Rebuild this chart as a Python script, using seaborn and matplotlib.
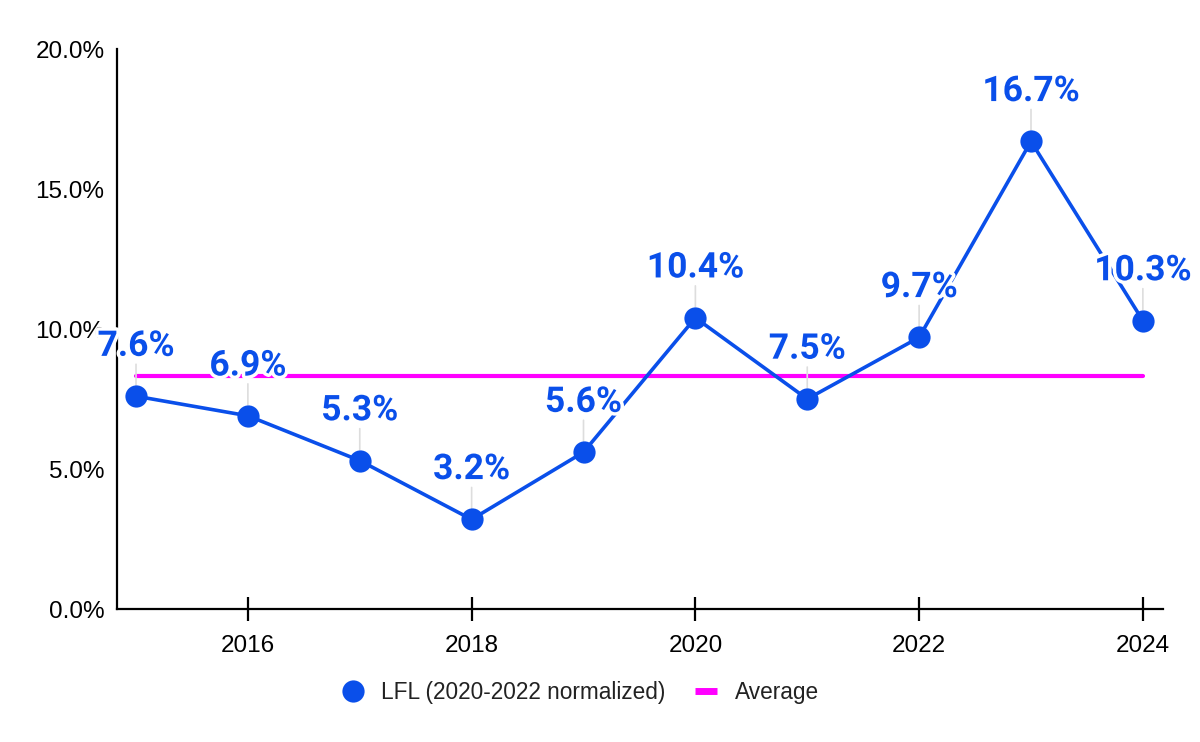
import matplotlib
matplotlib.use('Agg')
import matplotlib.pyplot as plt
import matplotlib.patheffects as pe
from matplotlib.lines import Line2D
from matplotlib.ticker import FuncFormatter, FixedLocator
import pandas as pd
import seaborn as sns

years = [2015, 2016, 2017, 2018, 2019, 2020, 2021, 2022, 2023, 2024]
lfl = [7.6, 6.9, 5.3, 3.2, 5.6, 10.4, 7.5, 9.7, 16.7, 10.3]
average = 8.32
x_ticks = [2016, 2018, 2020, 2022, 2024]
y_ticks = [0, 5, 10, 15, 20]

blue = '#0A4FEA'
magenta = '#FF00FF'

df = pd.DataFrame({'year': years, 'lfl': lfl})

sns.set_style("white")
plt.rcParams['font.family'] = ['Liberation Sans', 'DejaVu Sans']

fig = plt.figure(figsize=(12, 7.42), dpi=100)
ax = fig.add_axes([117 / 1200, 1 - 609 / 742, (1163 - 117) / 1200, (609 - 49) / 742])

ax.plot(years, [average] * len(years), color=magenta, lw=3, zorder=2)
sns.lineplot(data=df, x='year', y='lfl', ax=ax, color=blue, lw=2.6,
             marker='o', markersize=16, markeredgewidth=0, zorder=4)

for yr, v in zip(years, lfl):
    ax.annotate('', xy=(yr, v), xytext=(0, 23), textcoords='offset points',
                arrowprops=dict(arrowstyle='-', color='#dddddd', lw=1.2,
                                shrinkA=0, shrinkB=8), zorder=3)
    ax.annotate(f'{v:.1f}%', xy=(yr, v), xytext=(0, 24), textcoords='offset points',
                ha='center', va='bottom', fontsize=25.5, fontweight='bold',
                family=['Roboto', 'DejaVu Sans'], color=blue, zorder=6,
                path_effects=[pe.withStroke(linewidth=5, foreground='white')])

ax.set_xlim(2014.83, 2024.18)
ax.set_ylim(0, 20)
ax.xaxis.set_major_locator(FixedLocator(x_ticks))
ax.yaxis.set_major_locator(FixedLocator(y_ticks))
ax.yaxis.set_major_formatter(FuncFormatter(lambda v, p: f'{v:.1f}%'))
ax.set_xlabel('')
ax.set_ylabel('')

for s in ['top', 'right']:
    ax.spines[s].set_visible(False)
for s in ['left', 'bottom']:
    ax.spines[s].set_color('black')
    ax.spines[s].set_linewidth(1.6)

ax.tick_params(axis='x', direction='inout', length=17, width=1.6, color='black',
               labelsize=17.5, labelcolor='black', pad=10, bottom=True)
ax.tick_params(axis='y', length=0, labelsize=17.5, labelcolor='black', pad=9)
ax.grid(False)

handles = [
    Line2D([], [], color=blue, marker='o', markersize=16, lw=0, markeredgewidth=0),
    Line2D([], [], color=magenta, lw=5, solid_capstyle='butt'),
]
leg = fig.legend(handles, ['LFL (2020-2022 normalized)', 'Average'], loc='center',
                 bbox_to_anchor=(580 / 1200, 1 - 692 / 742), ncol=2, frameon=False,
                 fontsize=16.3, handlelength=1.0, handletextpad=0.75, columnspacing=1.3)
for t in leg.get_texts():
    t.set_color('#222222')

fig.savefig('out.png', dpi=100)
